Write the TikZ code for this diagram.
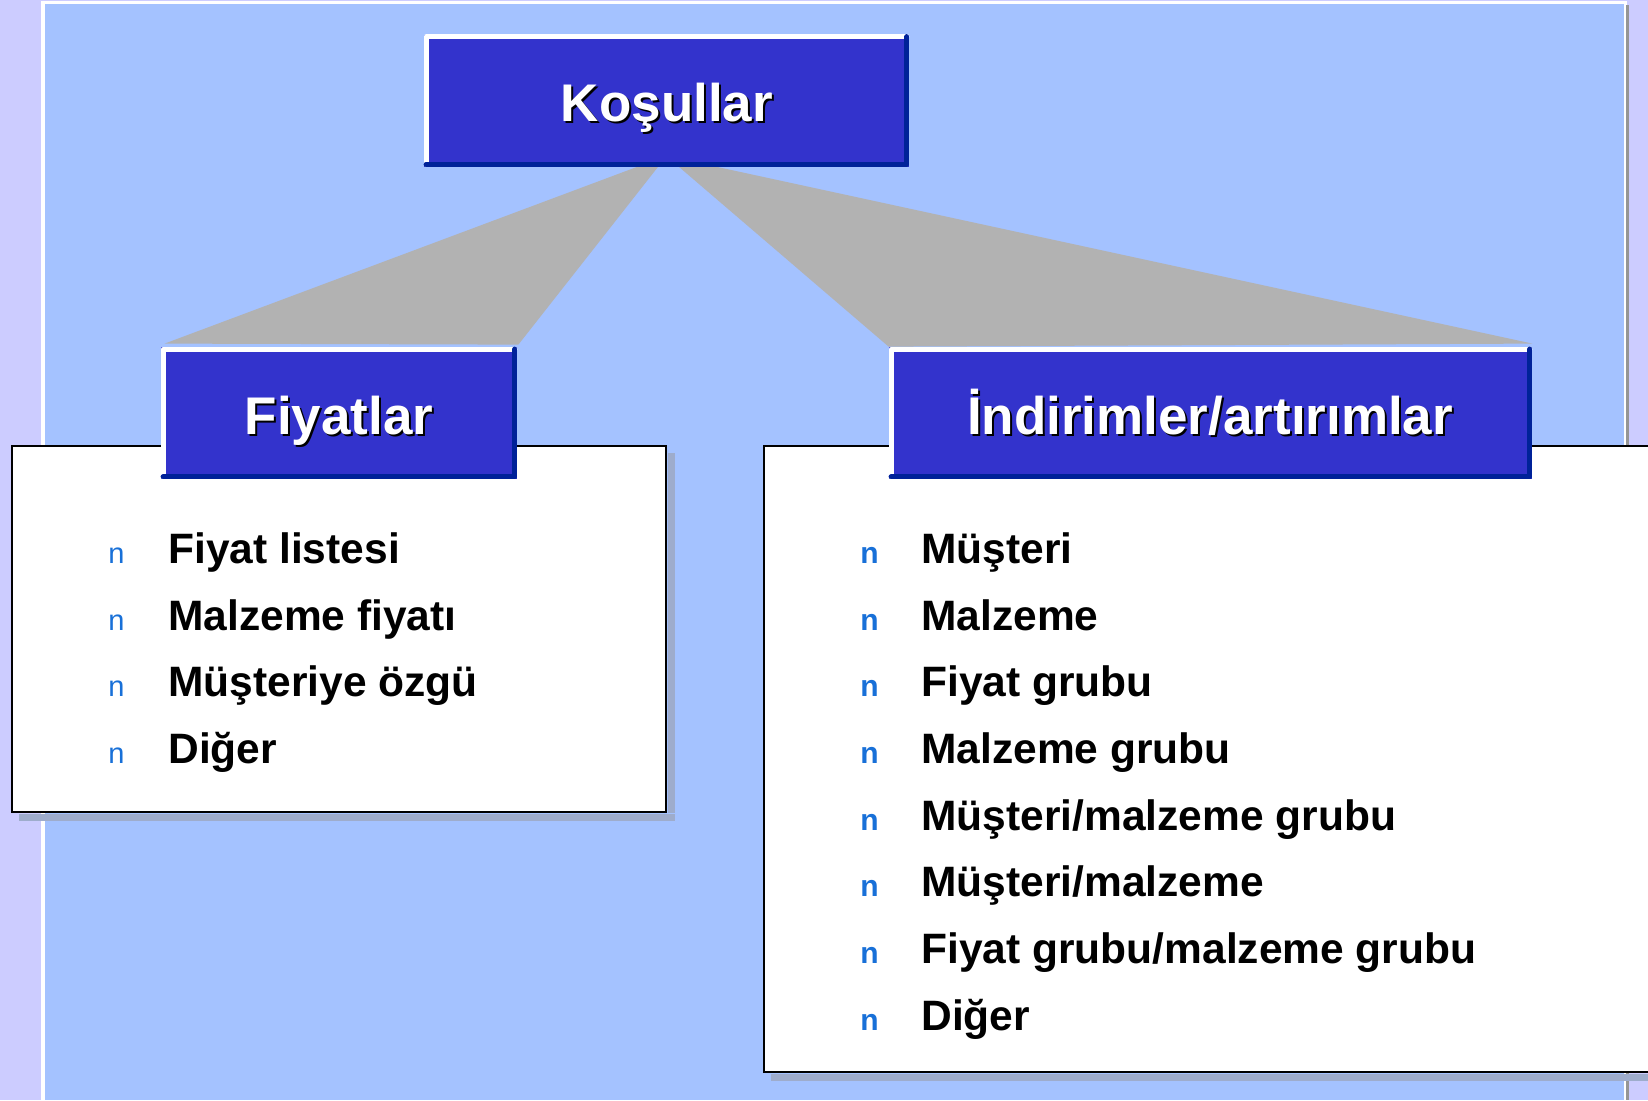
\documentclass[tikz,border=0pt]{standalone}
\usepackage{fontspec}
\setmainfont{Liberation Sans}
\usetikzlibrary{calc}
\definecolor{lav}{RGB}{204,204,255}
\definecolor{bgblue}{RGB}{164,194,255}
\definecolor{boxblue}{RGB}{51,51,204}
\definecolor{edgeblue}{RGB}{0,34,153}
\definecolor{connector}{RGB}{178,178,178}
\definecolor{pshadow}{RGB}{158,172,204}
\definecolor{bulletblue}{RGB}{24,112,216}
\definecolor{rimgray}{RGB}{150,150,150}
\newcommand\bevelbox[1]{%
  \draw[edgelit] ($(#1.south west)+(2.5,-2.5)$) -- ($(#1.north west)+(2.5,2.5)$) -- ($(#1.north east)+(-2.5,2.5)$);
  \draw[edgedark] ($(#1.north east)+(-2.5,2.5)$) -- ($(#1.south east)+(-2.5,-2.5)$) -- ($(#1.south west)+(2.5,-2.5)$);
}
\begin{document}
\begin{tikzpicture}[x=0.5pt,y=-0.5pt,
  hdrbox/.style={fill=boxblue, inner sep=0pt, minimum height=66pt},
  panelbox/.style={fill=white, draw=black, line width=1.25pt, inner sep=0pt},
  hdrtext/.style={font=\fontsize{26.5}{30}\selectfont\bfseries, text=white, inner sep=0pt, anchor=base},
  hdrshadow/.style={font=\fontsize{26.5}{30}\selectfont\bfseries, text=black, inner sep=0pt, anchor=base},
  itemtext/.style={font=\fontsize{21.25}{25}\selectfont\bfseries, text=black, anchor=base west, inner sep=0pt},
  lbul/.style={font=\fontsize{14.5}{18}\selectfont, text=bulletblue, anchor=base west, inner sep=0pt},
  rbul/.style={font=\fontsize{15}{18}\selectfont\bfseries, text=bulletblue, anchor=base west, inner sep=0pt},
  edgelit/.style={line width=2.5pt, white, line cap=round, line join=round},
  edgedark/.style={line width=2.5pt, edgeblue, line cap=round, line join=round},
  conn/.style={fill=connector}
]
\useasboundingbox (0,0) rectangle (1648,1100);
\clip (0,0) rectangle (1648,1100);
% background
\fill[lav] (0,0) rectangle (1648,1100);
\fill[white] (41,1) rectangle (1627,1100);
\fill[rimgray] (1626,5) rectangle (1629,1100);
\fill[bgblue] (45,4) rectangle (1624,1100);

% header boxes (nodes)
\node[hdrbox, minimum width=242.5pt] (kos) at (666.5,100.5) {};
\node[hdrbox, minimum width=178pt] (fiy) at (339,413) {};
\node[hdrbox, minimum width=321.5pt] (ind) at (1210.5,413) {};

% connectors
\fill[conn] ($(kos.south)+(-29.5,0)$) -- ($(kos.south)+(-8.5,0)$) -- ($(fiy.north east)+(1,-2)$) -- ($(fiy.north west)+(4,-3)$) -- cycle;
\fill[conn] ($(kos.south)+(12.5,0)$) -- ($(kos.south)+(50.5,0)$) -- ($(ind.north east)+(0,-3)$) -- (ind.north west) -- cycle;

% panels with shadows
\node[panelbox, minimum width=327pt, minimum height=183pt] (lp) at (339,629) {};
\node[panelbox, minimum width=468pt, minimum height=313pt] (rp) at (1232,759) {};
\fill[pshadow] ($(lp.north east)+(1,8)$) rectangle ($(lp.south east)+(8,0)$);
\fill[pshadow] ($(lp.south west)+(8,1)$) rectangle ($(lp.south east)+(8,8)$);
\fill[pshadow] ($(rp.south west)+(8,1)$) rectangle ($(rp.south east)+(8,8)$);
\node[panelbox, minimum width=327pt, minimum height=183pt] at (lp.center) {};
\node[panelbox, minimum width=468pt, minimum height=313pt] at (rp.center) {};

% header boxes on top
\node[hdrbox, minimum width=242.5pt] at (kos.center) {};
\node[hdrbox, minimum width=178pt] at (fiy.center) {};
\node[hdrbox, minimum width=321.5pt] at (ind.center) {};
\bevelbox{kos}
\bevelbox{fiy}
\bevelbox{ind}

% header texts with shadow
\node[hdrshadow] (koss) at (669,123) {Koşullar};
\node[hdrtext] (kost) at (667,121) {Koşullar};
\node[hdrshadow] (fiys) at (341,436) {Fiyatlar};
\node[hdrtext] (fiyt) at (339,434) {Fiyatlar};
\node[hdrshadow] (inds) at (1212,436) {İndirimler/artırımlar};
\node[hdrtext] (indt) at (1210,434) {İndirimler/artırımlar};

% left items
\node[lbul] (lb1) at (108,563) {n};
\node[lbul] (lb2) at (108,630) {n};
\node[lbul] (lb3) at (108,696) {n};
\node[lbul] (lb4) at (108,763) {n};
\node[itemtext] (li1) at (168,563) {Fiyat listesi};
\node[itemtext] (li2) at (168,630) {Malzeme fiyatı};
\node[itemtext] (li3) at (168,696) {Müşteriye özgü};
\node[itemtext] (li4) at (168,763) {Diğer};

% right items
\node[rbul] (rb1) at (860,563) {n};
\node[rbul] (rb2) at (860,630) {n};
\node[rbul] (rb3) at (860,696) {n};
\node[rbul] (rb4) at (860,763) {n};
\node[rbul] (rb5) at (860,830) {n};
\node[rbul] (rb6) at (860,896) {n};
\node[rbul] (rb7) at (860,963) {n};
\node[rbul] (rb8) at (860,1030) {n};
\node[itemtext] (ri1) at (921,563) {Müşteri};
\node[itemtext] (ri2) at (921,630) {Malzeme};
\node[itemtext] (ri3) at (921,696) {Fiyat grubu};
\node[itemtext] (ri4) at (921,763) {Malzeme grubu};
\node[itemtext] (ri5) at (921,830) {Müşteri/malzeme grubu};
\node[itemtext] (ri6) at (921,896) {Müşteri/malzeme};
\node[itemtext] (ri7) at (921,963) {Fiyat grubu/malzeme grubu};
\node[itemtext] (ri8) at (921,1030) {Diğer};
\end{tikzpicture}
\end{document}
